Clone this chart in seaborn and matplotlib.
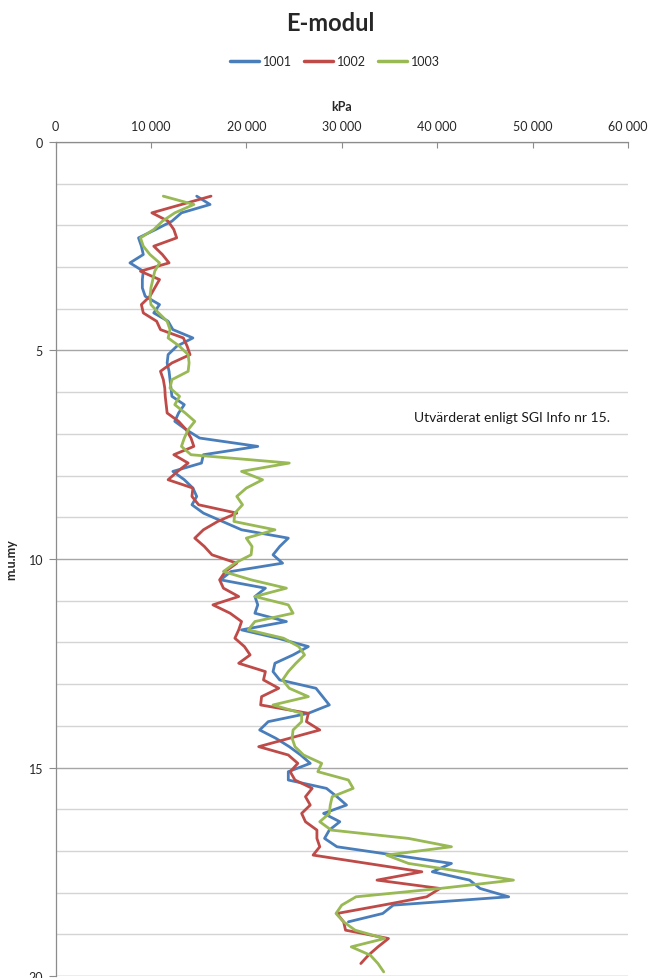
import pandas as pd
import matplotlib
matplotlib.use("Agg")
import matplotlib.pyplot as plt
from matplotlib.ticker import MultipleLocator, FuncFormatter
import seaborn as sns

# --- Data (djup i m, E-modul i kPa) ---
djup = [1.3, 1.5, 1.7, 1.9, 2.1, 2.3, 2.5, 2.7, 2.9,
        3.1, 3.3, 3.5, 3.7, 3.9, 4.1, 4.3, 4.5, 4.7, 4.9,
        5.1, 5.3, 5.5, 5.7, 5.9, 6.1, 6.3, 6.5, 6.7, 6.9,
        7.1, 7.3, 7.5, 7.7, 7.9, 8.1, 8.3, 8.5, 8.7, 8.9,
        9.1, 9.3, 9.5, 9.7, 9.9, 10.1, 10.3, 10.5, 10.7, 10.9,
        11.1, 11.3, 11.5, 11.7, 11.9, 12.1, 12.3, 12.5, 12.7, 12.9,
        13.1, 13.3, 13.5, 13.7, 13.9, 14.1, 14.3, 14.5, 14.7, 14.9,
        15.1, 15.3, 15.5, 15.7, 15.9, 16.1, 16.3, 16.5, 16.7, 16.9,
        17.1, 17.3, 17.5, 17.7, 17.9, 18.1, 18.3, 18.5, 18.7, 18.9,
        19.1, 19.3, 19.5, 19.7, 19.9]

e_1001 = [14800, 16200, 13200, 12200, 10500, 8700, 9000, 9200, 7800,
          9200, 9100, 9100, 9400, 10900, 10300, 11800, 12300, 14400, 12700,
          11800, 11700, 11900, 12000, 12100, 12200, 13500, 12900, 12500, 13700,
          15100, 21200, 15500, 15300, 12300, 13500, 14400, 14800, 14300, 15500,
          17500, 19500, 24400, 23500, 22800, 23800, 18400, 17300, 22000, 20900,
          21200, 20900, 24200, 19500, 23300, 26500, 24900, 23000, 22800, 23500,
          27300, 28000, 28700, 26500, 22300, 21400, 23100, 24500, 25700, 26700,
          24400, 24400, 28400, 29500, 30500, 28100, 29800, 28700, 28200, 29500,
          35500, 41500, 39500, 43400, 44500, 47500, 35400, 34300, 30700]

e_1002 = [16300, 13200, 10100, 11800, 12400, 12700, 10300, 11200, 11900,
          8900, 10900, 10400, 9900, 9000, 9200, 10600, 11000, 13400, 13800,
          14100, 12200, 11000, 11300, 11450, 11500, 11600, 11700, 12900, 13700,
          14200, 14500, 12400, 13900, 12800, 11800, 14400, 14300, 15000, 19000,
          17000, 15500, 14600, 15600, 16400, 19000, 17800, 17200, 17600, 19200,
          16500, 18300, 19500, 19200, 18800, 19800, 20400, 19200, 22000, 21800,
          23400, 21600, 21500, 26500, 26300, 27700, 24500, 21300, 24400, 25400,
          24600, 25100, 26900, 26200, 26700, 25800, 26200, 27400, 27400, 27700,
          27000, 32700, 38400, 33700, 40300, 38900, 34300, 29500, 30200, 30400,
          34900, 33800, 32800, 32000]

e_1003 = [11300, 14500, 12500, 11200, 10300, 8900, 9200, 9900, 10900,
          10400, 10200, 10000, 9900, 10000, 10800, 11700, 12000, 11800, 13000,
          13900, 14000, 13900, 12200, 12000, 13000, 12500, 13600, 14600, 13900,
          13500, 13200, 14200, 24500, 19500, 21700, 20000, 19000, 19600, 18800,
          18700, 23000, 20000, 20600, 20500, 18800, 17600, 20500, 24200, 20900,
          24400, 24900, 20900, 20200, 23900, 25500, 26100, 25200, 24400, 23800,
          24500, 26500, 22800, 25800, 25800, 24900, 24800, 25100, 26000, 27900,
          27500, 30700, 31200, 29000, 28800, 28700, 27700, 28900, 37000, 41500,
          34700, 37000, 42700, 48000, 40300, 31500, 30000, 29400, 30200, 31400,
          34500, 31000, 33000, 33800, 34400]

serier = ["1001", "1002", "1003"]
farger = ["#4a7ebb", "#be4b48", "#98b954"]

rader = []
for namn, varden in zip(serier, [e_1001, e_1002, e_1003]):
    for i, v in enumerate(varden):
        rader.append({"serie": namn, "kPa": v, "djup": djup[i]})
df = pd.DataFrame(rader)

sns.set_style("white")
plt.rcParams["font.family"] = ["Lato", "DejaVu Sans"]

fig = plt.figure(figsize=(6.48, 9.79), dpi=100)
ax = fig.add_axes([0.0857, 0.002, 0.8833, 0.852])

sns.lineplot(data=df, x="kPa", y="djup", hue="serie", palette=farger,
             sort=False, estimator=None, units="serie", linewidth=2.0, ax=ax)

ax.set_xlim(0, 60000)
ax.set_ylim(20, 0)

# x-axel överst
ax.xaxis.tick_top()
ax.xaxis.set_label_position("top")
ax.xaxis.set_major_locator(MultipleLocator(10000))
ax.xaxis.set_major_formatter(FuncFormatter(lambda v, p: f"{int(v):,}".replace(",", " ")))
ax.set_xlabel("kPa", fontsize=9, fontweight="bold", labelpad=7)
ax.tick_params(axis="x", direction="in", length=4, width=0.8, color="#8c8c8c",
               labelsize=9, pad=7)

ax.yaxis.set_major_locator(MultipleLocator(5))
ax.yaxis.set_minor_locator(MultipleLocator(1))
ax.set_ylabel("m.u.my", fontsize=9, fontweight="bold", labelpad=8)
ax.tick_params(axis="y", which="major", direction="out", length=5, width=0.8,
               color="#8c8c8c", labelsize=9, pad=4, left=True)
ax.tick_params(axis="y", which="minor", length=0)

ax.grid(axis="y", which="major", color="#a6a6a6", linewidth=1)
ax.grid(axis="y", which="minor", color="#d4d4d4", linewidth=1)
ax.grid(axis="x", visible=False)
ax.set_axisbelow(True)

for s in ["right", "bottom"]:
    ax.spines[s].set_visible(False)
for s in ["left", "top"]:
    ax.spines[s].set_color("#8c8c8c")
    ax.spines[s].set_linewidth(0.9)

ax.text(47800, 6.6, "Utvärderat enligt SGI Info nr 15.", fontsize=10,
        ha="center", va="center", color="#1a1a1a")

sns.move_legend(ax, "center", bbox_to_anchor=(0.488, 1.097), ncol=3,
                frameon=False, title=None, fontsize=9, handlelength=2.3,
                handletextpad=0.3, columnspacing=1.0)
for ln in ax.get_legend().get_lines():
    ln.set_linewidth(2.5)

fig.suptitle("E-modul", x=0.51, y=0.988, fontsize=17, fontweight="bold")

fig.savefig("out.png", dpi=100)
